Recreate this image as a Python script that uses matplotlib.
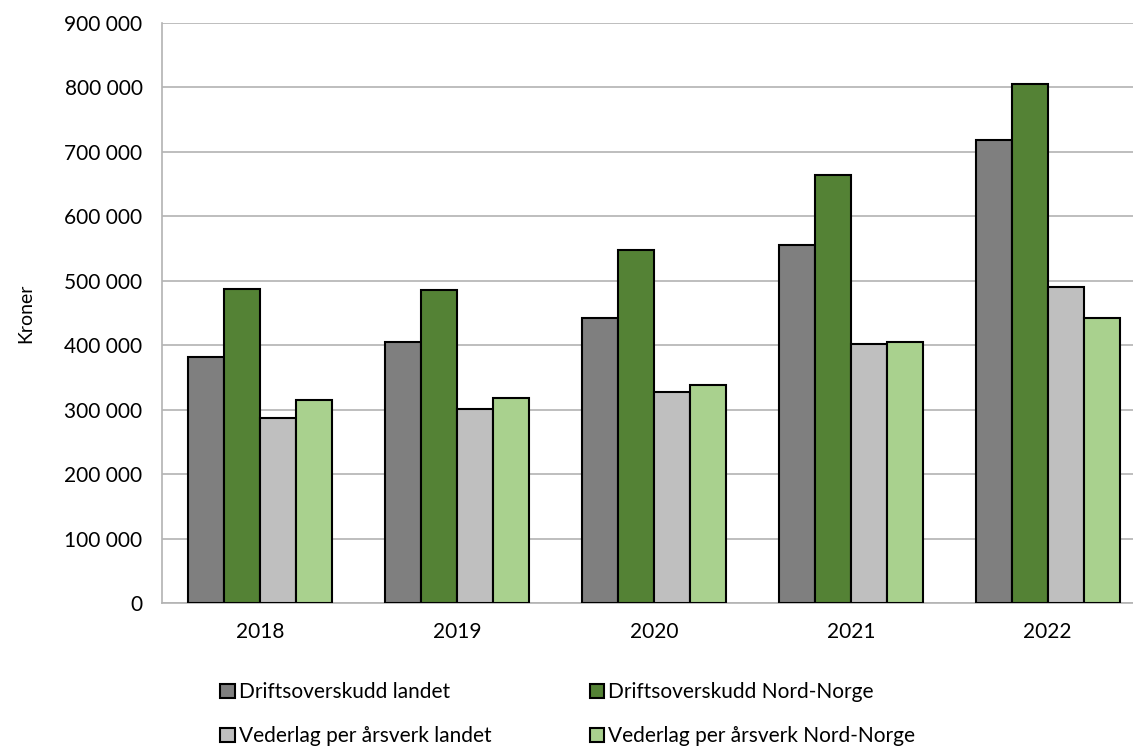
import matplotlib
matplotlib.use("Agg")
import matplotlib.pyplot as plt
import numpy as np
from matplotlib.ticker import FuncFormatter

plt.rcParams['font.family'] = ['Lato', 'DejaVu Sans']

years = ['2018', '2019', '2020', '2021', '2022']
series_names = ['Driftsoverskudd landet', 'Driftsoverskudd Nord-Norge',
                'Vederlag per årsverk landet', 'Vederlag per årsverk Nord-Norge']
drift_landet = [381000, 405000, 442000, 555000, 718000]
drift_nn = [488000, 486000, 548000, 664000, 805000]
vederlag_landet = [287000, 301000, 327000, 402000, 491000]
vederlag_nn = [315000, 318000, 338000, 405000, 443000]
colors = ['#7f7f7f', '#548235', '#bfbfbf', '#a9d18e']
yticks = list(range(0, 900001, 100000))

fig = plt.figure(figsize=(11.33, 7.49), dpi=100)
ax = fig.add_axes([162/1133, 1-603/749, (1146-162)/1133, (603-23)/749])

x = np.arange(len(years))
w = 0.183
data = [drift_landet, drift_nn, vederlag_landet, vederlag_nn]
bars = []
for i, (vals, c, name) in enumerate(zip(data, colors, series_names)):
    b = ax.bar(x + (i - 1.5) * w, vals, w, color=c, edgecolor='black',
               linewidth=1.5, label=name, zorder=3)
    bars.append(b)

ax.set_xlim(-0.5, 4.5)
ax.set_ylim(0, 900000)
ax.set_yticks(yticks)
ax.yaxis.set_major_formatter(FuncFormatter(lambda v, p: f"{int(v):,}".replace(",", " ")))
ax.set_xticks(x)
ax.set_xticklabels(years)
ax.tick_params(axis='both', length=0, labelsize=15, colors='#000000')
ax.tick_params(axis='y', pad=14)
ax.tick_params(axis='x', pad=14)
ax.grid(axis='y', color='#b3b3b3', linewidth=1.2, zorder=0)
for s in ['top', 'right']:
    ax.spines[s].set_visible(False)
ax.spines['left'].set_color('#b3b3b3')
ax.spines['bottom'].set_color('#b3b3b3')
ax.spines['left'].set_linewidth(1.2)
ax.spines['bottom'].set_linewidth(1.2)
ax.set_ylabel('Kroner', fontsize=14, labelpad=22)

handles = [bars[0], bars[2], bars[1], bars[3]]
labels = [series_names[0], series_names[2], series_names[1], series_names[3]]
fig.legend(handles, labels, ncol=2, loc='upper left',
           bbox_to_anchor=(212/1133, 1-674/749), frameon=False,
           fontsize=15, handlelength=0.7, handleheight=0.7,
           handletextpad=0.2, columnspacing=4.7, labelspacing=1.15,
           borderaxespad=0)

fig.savefig('out.png', dpi=100)
